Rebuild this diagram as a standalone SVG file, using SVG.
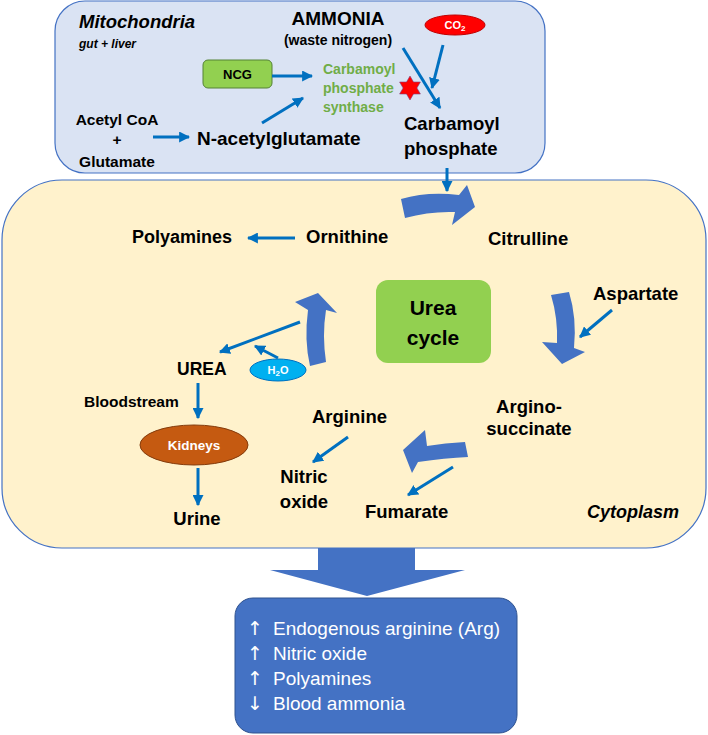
<svg xmlns="http://www.w3.org/2000/svg" width="708" height="735" viewBox="0 0 708 735">
<style>
.t{font-family:"Liberation Sans",Arial,sans-serif;font-weight:bold;fill:#000}
.b{font-size:18.5px}
.m{text-anchor:middle}
.i{font-style:italic}
.w{fill:#fff}
.g{fill:#70AD47;font-size:14px}
.ln{stroke:#0070C0;stroke-width:3;fill:none;marker-end:url(#ah)}
.blk{fill:#4472C4}
.box{font-family:"Liberation Sans",Arial,sans-serif;font-size:19px;fill:#fff}
.arr{font-family:"DejaVu Sans",sans-serif;font-size:19px}
</style>
<defs>
<marker id="ah" viewBox="0 0 10 10" refX="9" refY="5" markerWidth="11" markerHeight="11" markerUnits="userSpaceOnUse" orient="auto">
<path d="M0,0 L10,5 L0,10 z" fill="#0070C0"/>
</marker>
</defs>

<g id="mitochondria">
<rect x="55" y="1" width="490" height="172" rx="30" fill="#DAE3F3" stroke="#4472C4" stroke-width="1.2"/>
<text class="t i" x="79" y="28" font-size="18.5">Mitochondria</text>
<text class="t i" x="79" y="48" font-size="12">gut + liver</text>
</g>

<g id="cytoplasm">
<rect x="2" y="180" width="704" height="368" rx="60" fill="#FFF2CC" stroke="#4472C4" stroke-width="1.2"/>
<text class="t i" x="587" y="518" font-size="18">Cytoplasm</text>
</g>

<g id="ammonia">
<text class="t m" x="338" y="25" font-size="19">AMMONIA</text>
<text class="t m" x="338" y="45" font-size="14">(waste nitrogen)</text>
</g>

<g id="co2">
<ellipse cx="455" cy="25" rx="30" ry="10" fill="#FF0000" stroke="#C00000"/>
<text class="t m w" x="455" y="29" font-size="11">CO<tspan font-size="8" dy="2">2</tspan></text>
</g>

<g id="ncg">
<rect x="203" y="60" width="69" height="28" rx="5" fill="#92D050" stroke="#548235"/>
<text class="t m" x="237.5" y="79" font-size="13">NCG</text>
</g>

<g id="cps">
<text class="t g" x="323" y="74">Carbamoyl</text>
<text class="t g" x="323" y="93">phosphate</text>
<text class="t g" x="323" y="112">synthase</text>
<polygon points="410,76 413.5,82 420.4,82 416.9,88 420.4,94 413.5,94 410,100 406.5,94 399.6,94 403.1,88 399.6,82 406.5,82" fill="#FF0000" stroke="#7F3F7F" stroke-width="0.6"/>
</g>

<g id="acetylcoa">
<text class="t m" x="117" y="125" font-size="15.5">Acetyl CoA</text>
<text class="t m" x="117" y="145" font-size="15.5">+</text>
<text class="t m" x="117" y="167" font-size="15.5">Glutamate</text>
</g>

<g id="nag">
<text class="t" x="197" y="145" font-size="19">N-acetylglutamate</text>
</g>

<g id="carbamoylphosphate">
<text class="t b" x="404" y="130">Carbamoyl</text>
<text class="t b" x="404" y="155">phosphate</text>
</g>

<g id="polyamines"><text class="t" x="132" y="243" font-size="18">Polyamines</text></g>
<g id="ornithine"><text class="t b" x="306" y="243">Ornithine</text></g>
<g id="citrulline"><text class="t b" x="488" y="245">Citrulline</text></g>

<g id="ureacycle">
<rect x="376" y="280" width="115" height="83" rx="12" fill="#92D050"/>
<text class="t m" x="433" y="315" font-size="21">Urea</text>
<text class="t m" x="433" y="345" font-size="21">cycle</text>
</g>

<g id="aspartate"><text class="t b" x="593" y="300">Aspartate</text></g>
<g id="urea"><text class="t" x="177" y="375" font-size="17.5">UREA</text></g>

<g id="h2o">
<ellipse cx="278" cy="370" rx="28" ry="11" fill="#00B0F0" stroke="#0070C0"/>
<text class="t m w" x="278" y="374" font-size="11">H<tspan font-size="8" dy="2">2</tspan><tspan dy="-2">O</tspan></text>
</g>

<g id="bloodstream"><text class="t" x="84" y="407" font-size="15.5">Bloodstream</text></g>

<g id="kidneys">
<ellipse cx="194" cy="445" rx="54" ry="20" fill="#C55A11" stroke="#843C0C"/>
<text class="t m w" x="194" y="450" font-size="13.5">Kidneys</text>
</g>

<g id="urine"><text class="t b m" x="197" y="525">Urine</text></g>
<g id="arginine"><text class="t b" x="312" y="423">Arginine</text></g>
<g id="nitricoxide">
<text class="t b m" x="304" y="483">Nitric</text>
<text class="t b m" x="304" y="508">oxide</text>
</g>
<g id="argininosuccinate">
<text class="t b m" x="529" y="413">Argino-</text>
<text class="t b m" x="529" y="435">succinate</text>
</g>
<g id="fumarate"><text class="t b" x="365" y="518">Fumarate</text></g>

<g id="cyclearrows">
<path class="blk" d="M401,199 Q428,191 459,195 L467,185 L475,207 L452,225 L455,212 Q430,211 405,218 Z"/>
<path class="blk" d="M551,295 Q558,318 557,343 L542,342 L562,364 L585,352 L574,348 Q577,318 569,292 Z"/>
<path class="blk" d="M465,442 Q445,443 427,446 L425,430 L403,450 L412,473 L418,462 Q445,458 468,457 Z"/>
<path class="blk" d="M310,366 Q304,340 308,310 L295,302 L318,293 L337,313 L326,310 Q322,335 326,362 Z"/>
</g>

<g id="connectors">
<line class="ln" x1="272" y1="76" x2="312" y2="76"/>
<line class="ln" x1="262" y1="123" x2="303" y2="98"/>
<line class="ln" x1="153" y1="137" x2="189" y2="137"/>
<line class="ln" x1="403" y1="48" x2="440" y2="108"/>
<line class="ln" x1="443" y1="45" x2="432" y2="88"/>
<line class="ln" x1="447" y1="168" x2="447" y2="191"/>
<line class="ln" x1="295" y1="238" x2="248" y2="238"/>
<line class="ln" x1="300" y1="322" x2="220" y2="352"/>
<line class="ln" x1="278" y1="358" x2="255" y2="346"/>
<line class="ln" x1="612" y1="310" x2="580" y2="337"/>
<line class="ln" x1="198" y1="383" x2="198" y2="418"/>
<line class="ln" x1="198" y1="468" x2="198" y2="505"/>
<line class="ln" x1="348" y1="437" x2="313" y2="462"/>
<line class="ln" x1="453" y1="467" x2="408" y2="495"/>
</g>

<g id="bigarrow">
<polygon class="blk" points="318,548 415,548 415,570 465,570 367,596 270,570 318,570"/>
</g>

<g id="outcomes">
<rect x="235" y="598" width="282" height="135" rx="18" fill="#4472C4" stroke="#2F528F" stroke-width="1"/>
<text class="box" y="635"><tspan class="arr" x="247">↑</tspan><tspan x="273">Endogenous arginine (Arg)</tspan></text>
<text class="box" y="660"><tspan class="arr" x="247">↑</tspan><tspan x="273">Nitric oxide</tspan></text>
<text class="box" y="685"><tspan class="arr" x="247">↑</tspan><tspan x="273">Polyamines</tspan></text>
<text class="box" y="710"><tspan class="arr" x="247">↓</tspan><tspan x="273">Blood ammonia</tspan></text>
</g>
</svg>
